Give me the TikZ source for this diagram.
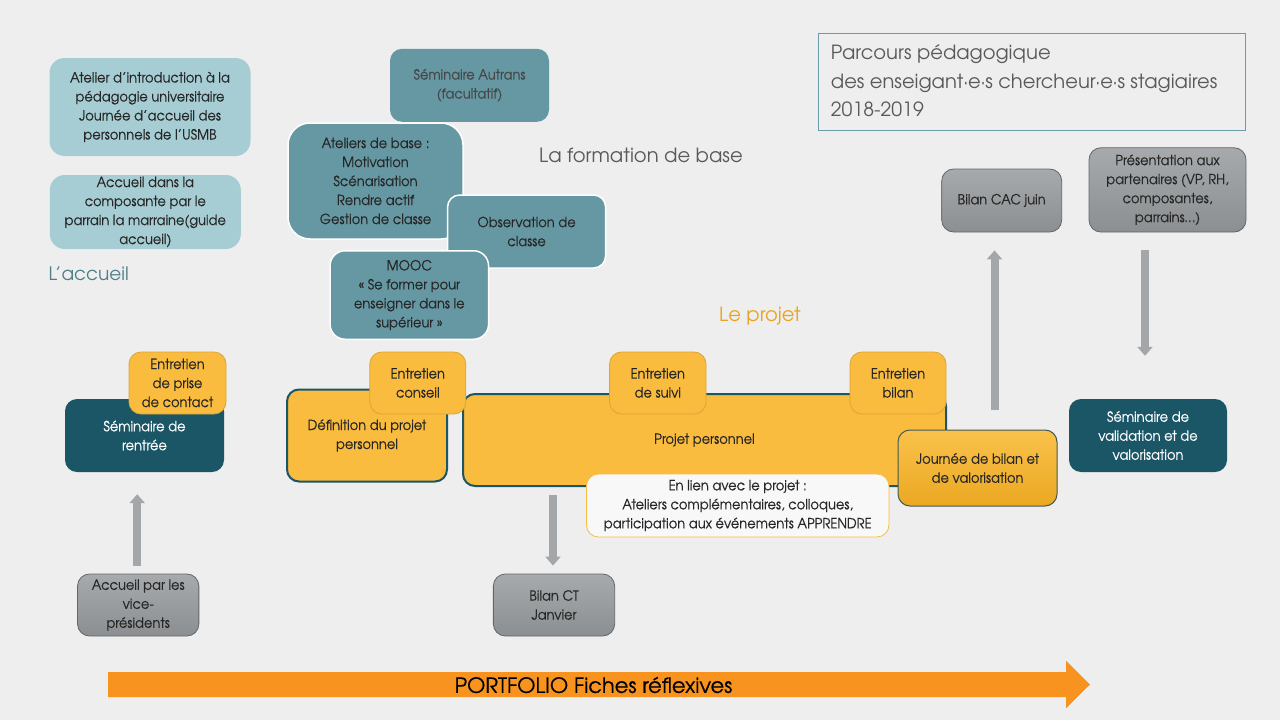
\documentclass[tikz,border=0pt]{standalone}
\usepackage{fontspec}
\usetikzlibrary{arrows.meta}
\newfontfamily\headfont{TeX Gyre Adventor}
\newfontfamily\bodyfont[FakeStretch=0.93,FakeBold=0.4]{TeX Gyre Adventor}
\newfontfamily\portfont[FakeBold=0.4]{TeX Gyre Adventor}
\definecolor{bg}{HTML}{EEEEEE}
\definecolor{lightteal}{HTML}{A6CDD3}
\definecolor{midteal}{HTML}{6698A4}
\definecolor{darkteal}{HTML}{1A5666}
\definecolor{orangebox}{HTML}{F9BC3E}
\definecolor{orangeline}{HTML}{DCA43A}
\definecolor{gtop}{HTML}{A7AAAC}
\definecolor{gbot}{HTML}{8C8F91}
\definecolor{gline}{HTML}{62666A}
\definecolor{garrowc}{HTML}{A3A7A9}
\definecolor{txt}{HTML}{262626}
\definecolor{headgray}{HTML}{595959}
\definecolor{accteal}{HTML}{4C7D88}
\definecolor{projorange}{HTML}{E9A41F}
\definecolor{portorange}{HTML}{F7931E}
\definecolor{titleline}{HTML}{6C9CA7}
\definecolor{jtop}{HTML}{FAC24C}
\definecolor{jbot}{HTML}{EBA821}
\definecolor{jline}{HTML}{3F5B55}
\begin{document}
\begin{tikzpicture}[x=1pt,y=-1pt,
  base/.style={rounded corners=12pt, align=center, inner sep=0pt, text=txt,
    font=\bodyfont\fontsize{14}{19}\selectfont},
  lt/.style={base, fill=lightteal, rounded corners=15pt},
  mt/.style={base, fill=midteal, draw=white, line width=1.5pt},
  dt/.style={base, fill=darkteal, text=white},
  ent/.style={base, fill=orangebox, draw=orangeline, line width=0.8pt},
  proj/.style={base, fill=orangebox, draw=darkteal, line width=2pt},
  grayb/.style={base, top color=gtop, bottom color=gbot, draw=gline, line width=0.8pt},
  garrow/.style={draw=garrowc, line width=8pt, -{Triangle[width=15pt,length=9pt]}},
  heading/.style={anchor=base west, inner sep=0pt, font=\headfont\fontsize{19.6}{24}\selectfont},
  titletext/.style={anchor=base west, inner sep=0pt, text=headgray, font=\headfont\fontsize{19.5}{24}\selectfont},
]
\useasboundingbox (0,0) rectangle (1280,720);
\fill[bg] (0,0) rectangle (1280,720);

% accueil
\node[lt, minimum width=201pt, minimum height=98pt] (atelier) at (150,107)
  {Atelier d’introduction à la\\pédagogie universitaire\\Journée d’accueil des\\personnels de l’USMB};
\node[lt, minimum width=191pt, minimum height=74pt] (compo) at (145.3,212)
  {Accueil dans la\\composante par le\\parrain la marraine(guide\\accueil)};
\node[heading, text=accteal, font=\headfont\fontsize{18.5}{24}\selectfont] (accueil) at (48.4,280.7) {L’accueil};

% formation de base
\node[base, fill=midteal, text=headgray!80!black, minimum width=159pt, minimum height=73pt] (autrans) at (469.5,85.3)
  {Séminaire Autrans\\(facultatif)};
\node[mt, rounded corners=22pt, minimum width=175pt, minimum height=116pt] (ateliers) at (375.5,181)
  {Ateliers de base :\\Motivation\\Scénarisation\\Rendre actif\\Gestion de classe};
\node[mt, minimum width=158pt, minimum height=73pt] (observation) at (526.6,231.5)
  {Observation de\\classe};
\node[mt, rounded corners=15pt, minimum width=158.5pt, minimum height=88.5pt] (mooc) at (409.3,295)
  {MOOC\\« Se former pour\\enseigner dans le\\supérieur »};
\node[heading, text=headgray] (formation) at (539,162) {La formation de base};

% title
\node[draw=titleline, line width=1pt, minimum width=426.7pt, minimum height=97pt, inner sep=0pt] (titlebox) at (1032.3,81.5) {};
\node[titletext] (title1) at (830.7,59) {Parcours pédagogique};
\node[titletext] (title2) at (830.7,88) {des enseigant·e·s chercheur·e·s stagiaires};
\node[titletext] (title3) at (830.7,116.7) {2018-2019};

% right gray boxes
\node[grayb, minimum width=120pt, minimum height=63pt] (bilancac) at (1001.7,200.5) {Bilan CAC juin};
\node[grayb, minimum width=157pt, minimum height=84.3pt] (presentation) at (1167.5,189.9)
  {Présentation aux\\partenaires (VP, RH,\\composantes,\\parrains…)};

\node[heading, text=projorange] (leprojet) at (719,321.7) {Le projet};

% main row
\node[dt, minimum width=159pt, minimum height=73pt] (rentree) at (144.5,435.5) {Séminaire de\\rentrée};
\node[ent, minimum width=97pt, minimum height=62pt] (entprise) at (177.5,383) {Entretien\\de prise\\de contact};

\node[proj, minimum width=160pt, minimum height=92pt] (definition) at (367,435.5) {Définition du projet\\personnel};
\node[proj, minimum width=483pt, minimum height=92pt] (projet) at (704.5,440) {Projet personnel};
\node[ent, minimum width=96pt, minimum height=62pt] (entconseil) at (417.8,383) {Entretien\\conseil};
\node[ent, minimum width=96.5pt, minimum height=62pt] (entsuivi) at (657.8,383) {Entretien\\de suivi};
\node[ent, minimum width=96pt, minimum height=62pt] (entbilan) at (898,383) {Entretien\\bilan};
\node[base, top color=jtop, bottom color=jbot, draw=jline, line width=1pt, minimum width=159pt, minimum height=76pt] (journee) at (977.5,468)
  {Journée de bilan et\\de valorisation};
\node[base, fill=white!60!bg, draw=orangebox, line width=0.8pt, minimum width=302.5pt, minimum height=63pt] (enlien) at (737.7,505.5)
  {En lien avec le projet :\\Ateliers complémentaires, colloques,\\participation aux événements APPRENDRE};
\node[dt, minimum width=158pt, minimum height=73pt] (validation) at (1148,435.5)
  {Séminaire de\\validation et de\\valorisation};

% bottom gray boxes
\node[grayb, minimum width=121.3pt, minimum height=62pt] (vp) at (138.2,605) {Accueil par les\\vice-\\présidents};
\node[grayb, minimum width=121.3pt, minimum height=62pt] (bilanct) at (554,605) {Bilan CT\\Janvier};

% gray arrows
\draw[garrow, shorten <=8pt, shorten >=22pt] ([xshift=-1pt]vp.north) -- ([xshift=-1pt]vp.north |- rentree.south);
\draw[garrow, shorten <=8pt, shorten >=8pt] ([xshift=-1pt]bilanct.north |- projet.south) -- ([xshift=-1pt]bilanct.north);
\draw[garrow, shorten <=19.3pt, shorten >=18pt] ([xshift=17pt]journee.north) -- ([xshift=17pt]journee.north |- bilancac.south);
\draw[garrow, shorten <=18pt, shorten >=43pt] ([xshift=-22.5pt]presentation.south) -- ([xshift=-22.5pt]presentation.south |- validation.north);

% portfolio arrow
\fill[portorange] (108,672) -- (1066,672) -- (1066,660.7) -- (1090,684.5) -- (1066,708.3) -- (1066,697) -- (108,697) -- cycle;
\node[inner sep=0pt, text=black, font=\portfont\fontsize{21}{24}\selectfont] (portfolio) at (593.5,685) {PORTFOLIO Fiches réflexives};
\end{tikzpicture}
\end{document}
